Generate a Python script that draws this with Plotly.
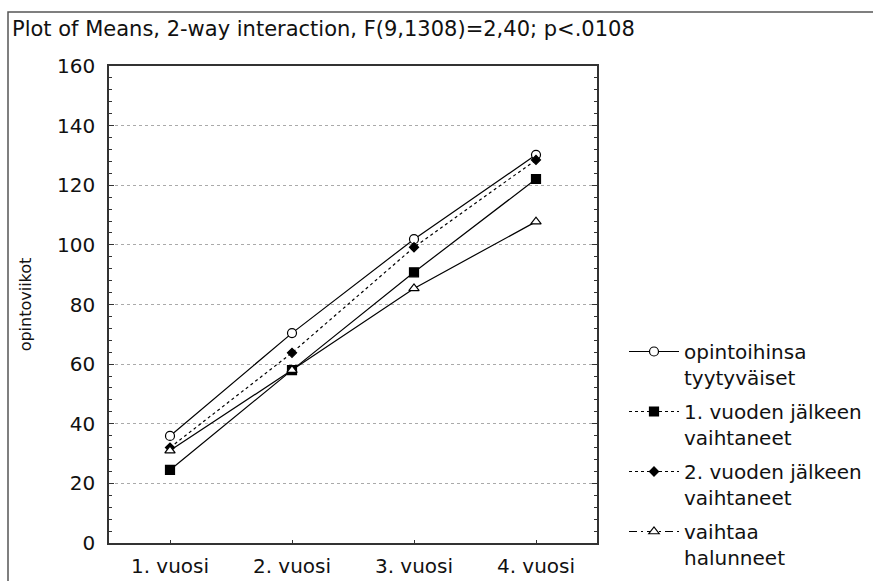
import plotly.graph_objects as go

categories = ["1. vuosi", "2. vuosi", "3. vuosi", "4. vuosi"]
series_names = [
    "opintoihinsa<br>tyytyväiset",
    "1. vuoden jälkeen<br>vaihtaneet",
    "2. vuoden jälkeen<br>vaihtaneet",
    "vaihtaa<br>halunneet",
]
tyytyvaiset = [35.9, 70.4, 101.9, 130.2]
vaihtaneet_1 = [24.5, 58.0, 90.8, 122.1]
vaihtaneet_2 = [32.0, 63.8, 99.2, 128.5]
halunneet = [31.0, 58.0, 85.4, 107.8]
y_ticks = [0, 20, 40, 60, 80, 100, 120, 140, 160]

FONT = "DejaVu Sans"
INK = "#111111"
W, H = 873, 581

styles = [
    dict(symbol="circle", size=9, color="white", plot_dash="solid", leg_dash="solid"),
    dict(symbol="square", size=9, color="black", plot_dash="solid", leg_dash="3px,3px"),
    dict(symbol="diamond", size=7, color="black", plot_dash="dot", leg_dash="dot"),
    dict(symbol="triangle-up", size=9, color="white", plot_dash="solid", leg_dash="8px,4px,2px,4px"),
]
all_values = [tyytyvaiset, vaihtaneet_1, vaihtaneet_2, halunneet]

fig = go.Figure()
for name, vals, st in zip(series_names, all_values, styles):
    fig.add_trace(go.Scatter(
        x=categories, y=vals, mode="lines+markers", showlegend=False,
        line=dict(color="black", width=1.2, dash=st["plot_dash"]),
        marker=dict(symbol=st["symbol"], size=st["size"], color=st["color"],
                    line=dict(color="black", width=1.2)),
        hoverinfo="skip",
    ))
for i, (name, st) in enumerate(zip(series_names, styles)):
    fig.add_trace(go.Scatter(
        x=[None], y=[None], mode="lines+markers", name=name, legendgroup=f"g{i}",
        line=dict(color="black", width=1.2, dash=st["leg_dash"]),
        marker=dict(symbol=st["symbol"], size=st["size"], color=st["color"],
                    line=dict(color="black", width=1.2)),
    ))

fig.update_layout(
    width=W, height=H, autosize=False,
    margin=dict(l=109, r=W - 597, t=66, b=H - 543, autoexpand=False),
    paper_bgcolor="white", plot_bgcolor="white",
    font=dict(family=FONT, size=20, color=INK),
    title=dict(text="Plot of Means, 2-way interaction, F(9,1308)=2,40; p<.0108",
               x=12 / W, xanchor="left", xref="container",
               y=1 - 29 / H, yanchor="middle", yref="container",
               font=dict(family=FONT, size=21, color=INK)),
    legend=dict(x=624 / W, xanchor="left", xref="container",
                y=1 - 332 / H, yanchor="top", yref="container",
                font=dict(family=FONT, size=20, color=INK), valign="top",
                tracegroupgap=5, itemwidth=50, bgcolor="rgba(0,0,0,0)"),
    shapes=[dict(type="rect", xref="paper", yref="paper",
                 x0=(8 - 109) / 488, x1=(880 - 109) / 488,
                 y0=(543 - 590) / 477, y1=(543 - 12) / 477,
                 line=dict(color="#555555", width=1.5), fillcolor="rgba(0,0,0,0)", layer="below")],
)
fig.update_xaxes(
    type="category", categoryorder="array", categoryarray=categories,
    range=[-0.5, 3.5], showgrid=False, zeroline=False, automargin=False,
    showline=True, linecolor="#333333", linewidth=1.5, mirror=True,
    ticks="inside", ticklen=3, tickcolor="#333333", tickwidth=1.2,
    tickfont=dict(family=FONT, size=20, color=INK), ticklabelstandoff=4,
)
fig.update_yaxes(
    range=[0, 160], tickvals=y_ticks, ticktext=[str(v) for v in y_ticks],
    showgrid=True, gridcolor="#aaaaaa", griddash="dot", gridwidth=1, zeroline=False,
    automargin=False,
    showline=True, linecolor="#333333", linewidth=1.5, mirror="allticks",
    ticks="inside", ticklen=5, tickcolor="#333333", tickwidth=1.2,
    minor=dict(dtick=4, tick0=0, ticks="inside", ticklen=3, tickcolor="#333333", showgrid=False),
    tickfont=dict(family=FONT, size=20, color=INK), ticklabelstandoff=8,
    title=dict(text="opintoviikot", font=dict(family=FONT, size=16, color=INK), standoff=21),
)
fig.write_html("out.html", config={"displayModeBar": False},
               post_script="document.body.style.margin='0';document.body.style.overflow='hidden';")
